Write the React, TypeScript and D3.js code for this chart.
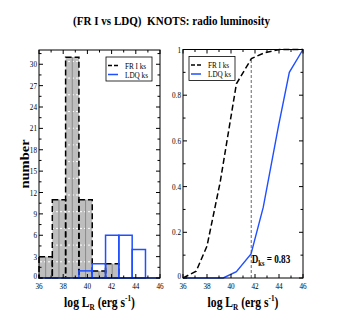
import * as d3 from 'd3';

// histogram bins (log L_R) and counts
const binEdges = [36, 37.1, 38.2, 39.3, 40.4, 41.5, 42.6, 43.7, 44.8, 45.9];
const friCounts = [3, 11, 31, 11, 1, 2, 0, 0, 0];
const ldqCounts = [0, 0, 0, 1, 2, 6, 6, 4, 0];

// cumulative distributions
const friCdfX = [36, 37.1, 38.0, 39.1, 40.45, 41.7, 42.8, 44.05, 46];
const friCdfY = [0, 0.03, 0.14, 0.42, 0.85, 0.96, 0.986, 1, 1];
const ldqCdfX = [36, 39.35, 40.45, 41.67, 42.69, 43.94, 44.86, 46];
const ldqCdfY = [0, 0, 0.028, 0.105, 0.31, 0.66, 0.9, 1];

const dksX = 41.69;
const dksTop = 0.96;

const legendLabels = ['FR I ks', 'LDQ ks'];

const FONT = '"Liberation Serif", "Times New Roman", serif';
const BLUE = '#1f4fff';
const SQ = 0.8; // the picture is squeezed horizontally

const left = { x0: 39, x1: 160, y0: 50, y1: 278 };
const right = { x0: 183, x1: 303, y0: 49.5, y1: 278 };

const xL = d3.scaleLinear().domain([36, 46]).range([left.x0, left.x1]);
const yL = d3.scaleLinear().domain([0, 32]).range([left.y1, left.y0]);
const xR = d3.scaleLinear().domain([36, 46]).range([right.x0, right.x1]);
const yR = d3.scaleLinear().domain([0, 1]).range([right.y1, right.y0]);

function T({ x, y, size, anchor = 'start', bold = false, children }: any) {
  return (
    <text transform={`translate(${x},${y}) scale(${SQ},1)`} fontSize={size} textAnchor={anchor}
      fontWeight={bold ? 'bold' : 'normal'} style={{ fontFamily: FONT }} fill="#000">{children}</text>
  );
}

function Frame({ x, y, xMajor, xMinor, yMajor, yMinor, yFmt }: any) {
  const [x0, x1] = x.range();
  const [y1, y0] = y.range();
  const M = 4, m = 2.5;
  return (
    <g>
      {xMinor.map((d: number) => {
        const len = xMajor.includes(d) ? M : m;
        return <g key={'x' + d}>
          <line x1={x(d)} x2={x(d)} y1={y1} y2={y1 - len} stroke="#000" />
          <line x1={x(d)} x2={x(d)} y1={y0} y2={y0 + len} stroke="#000" />
        </g>;
      })}
      {yMinor.map((d: number) => {
        const len = yMajor.some((v: number) => Math.abs(v - d) < 1e-6) ? M : m;
        return <g key={'y' + d}>
          <line x1={x0} x2={x0 + len} y1={y(d)} y2={y(d)} stroke="#000" />
          <line x1={x1} x2={x1 - len} y1={y(d)} y2={y(d)} stroke="#000" />
        </g>;
      })}
      <rect x={x0} y={y0} width={x1 - x0} height={y1 - y0} fill="none" stroke="#000" strokeWidth={1} />
      {xMajor.map((d: number) => (
        <T key={'xl' + d} x={x(d)} y={y1 + 11} size={9} anchor="middle">{d}</T>
      ))}
      {yMajor.map((d: number) => (
        <T key={'yl' + d} x={x0 - 2} y={y(d) + (d === 0 ? 0.5 : 3)} size={9} anchor="end">{yFmt(d)}</T>
      ))}
      <text transform={`translate(${(x0 + x1) / 2},307) scale(${SQ},1)`} fontSize={14.5} fontWeight="bold"
        style={{ fontFamily: FONT }} textAnchor="middle">
        log L<tspan fontSize={9} dy={3}>R</tspan><tspan dy={-3}> (erg s</tspan>
        <tspan fontSize={9} dy={-6}>-1</tspan><tspan dy={6}>)</tspan>
      </text>
    </g>
  );
}

function Legend({ x, y }: any) {
  return (
    <g>
      <rect x={x} y={y} width={46} height={24} fill="#fff" stroke="#000" strokeWidth={0.8} />
      <line x1={x + 2} x2={x + 12} y1={y + 8.5} y2={y + 8.5} stroke="#000" strokeWidth={1.5} strokeDasharray="4,2" />
      <line x1={x + 2} x2={x + 12} y1={y + 17.5} y2={y + 17.5} stroke={BLUE} strokeWidth={1.5} />
      <T x={x + 19} y={y + 11.5} size={9}>{legendLabels[0]}</T>
      <T x={x + 19} y={y + 20.5} size={9}>{legendLabels[1]}</T>
    </g>
  );
}

export default function App() {
  const bins = friCounts.map((c, i) => ({ a: binEdges[i], b: binEdges[i + 1], fri: c, ldq: ldqCounts[i] }));
  const friPts = friCdfX.map((v, i) => [v, friCdfY[i]]);
  const ldqPts = ldqCdfX.map((v, i) => [v, ldqCdfY[i]]);
  const lineR = d3.line<number[]>().x(d => xR(d[0])).y(d => yR(d[1]));

  return (
    <div style={{ position: 'absolute', left: 0, top: 0, background: '#fff' }}>
      <svg width={343} height={327} style={{ display: 'block' }}>
        <defs>
          <pattern id="fillpat" patternUnits="userSpaceOnUse" width={4} height={16.7}
            patternTransform={`translate(0,${yL(0)})`}>
            <rect width={4} height={16.7} fill="#bebebe" />
            <rect x={0} y={0} width={2} height={1} fill="#fff" />
          </pattern>
        </defs>
        <rect width={343} height={327} fill="#fff" />
        <text transform={`translate(171.5,25) scale(0.82,1)`} fontSize={13.5} fontWeight="bold"
          style={{ fontFamily: FONT, whiteSpace: 'pre' }}
          textAnchor="middle">{'(FR I vs LDQ)\u00a0\u00a0KNOTS: radio luminosity'}</text>

        {/* left panel: histograms */}
        {bins.filter(d => d.fri > 0).map((d, i) => (
          <g key={'f' + i}>
            <rect x={xL(d.a)} y={yL(d.fri)} width={xL(d.b) - xL(d.a)} height={yL(0) - yL(d.fri)} fill="url(#fillpat)" />
            <line x1={xL((d.a + d.b) / 2)} x2={xL((d.a + d.b) / 2)} y1={yL(0)} y2={yL(d.fri)} stroke="#8a8a8a" strokeWidth={1} />
          </g>
        ))}
        {bins.filter(d => d.fri > 0).map((d, i) => (
          <rect key={'fo' + i} x={xL(d.a)} y={yL(d.fri)} width={xL(d.b) - xL(d.a)} height={yL(0) - yL(d.fri)}
            fill="none" stroke="#000" strokeWidth={1.5} strokeDasharray="6,3" />
        ))}
        <line x1={xL(36)} x2={xL(46)} y1={yL(0)} y2={yL(0)} stroke={BLUE} strokeWidth={1.5} />
        {bins.filter(d => d.ldq > 0).map((d, i) => (
          <rect key={'l' + i} x={xL(d.a)} y={yL(d.ldq)} width={xL(d.b) - xL(d.a)} height={yL(0) - yL(d.ldq)}
            fill="none" stroke={BLUE} strokeWidth={1.5} />
        ))}
        <Frame x={xL} y={yL} xMajor={d3.range(36, 47, 2)} xMinor={d3.range(36, 47, 1)}
          yMajor={d3.range(0, 31, 3)} yMinor={d3.range(0, 32, 1.5)} yFmt={(d: number) => d} />
        <Legend x={106} y={57} />
        <text transform={`translate(28.5,${(left.y0 + left.y1) / 2}) rotate(-90) scale(1,${SQ})`} fontSize={14.5}
          fontWeight="bold" style={{ fontFamily: FONT }} textAnchor="middle">number</text>

        {/* right panel: cumulative distributions */}
        <line x1={xR(dksX)} x2={xR(dksX)} y1={yR(0)} y2={yR(dksTop)} stroke="#808080" strokeWidth={1.2} strokeDasharray="3,2" />
        <path d={lineR(friPts) || ''} fill="none" stroke="#000" strokeWidth={1.5} strokeDasharray="6,3" />
        <path d={lineR(ldqPts) || ''} fill="none" stroke={BLUE} strokeWidth={1.4} />
        <Frame x={xR} y={yR} xMajor={d3.range(36, 47, 2)} xMinor={d3.range(36, 47, 1)}
          yMajor={yR.ticks(5)} yMinor={yR.ticks(10)} yFmt={(d: number) => String(+d.toFixed(1))} />
        <Legend x={189} y={56.5} />
        <text transform={`translate(251.7,263.3) scale(${SQ},1)`} fontSize={11.5} fontWeight="bold" style={{ fontFamily: FONT }}>
          D<tspan fontSize={8} dy={3}>ks</tspan><tspan dy={-3}> = 0.83</tspan>
        </text>
      </svg>
    </div>
  );
}
